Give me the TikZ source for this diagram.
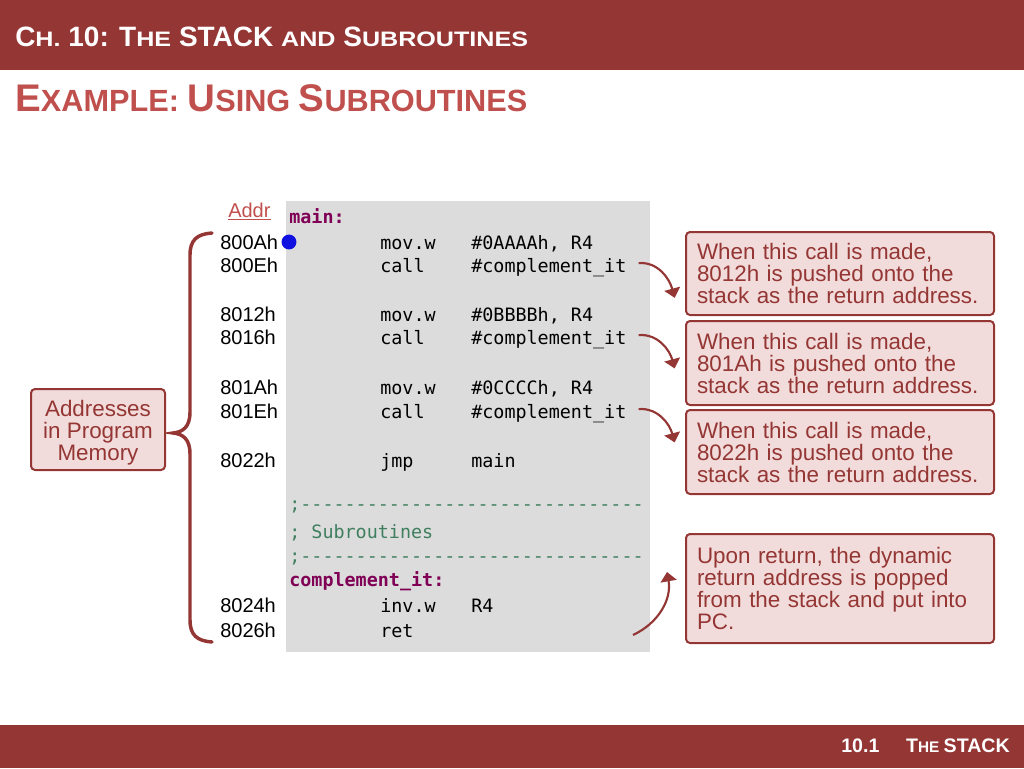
\documentclass[tikz,border=0pt]{standalone}
\usepackage{fontspec}
\setmainfont{Liberation Sans}
\setmonofont{DejaVu Sans Mono}
\newfontfamily\scst[FakeStretch=1.2]{Liberation Sans}
\usetikzlibrary{arrows.meta}
\definecolor{hdr}{HTML}{943634}
\definecolor{subc}{HTML}{C0504D}
\definecolor{boxfill}{HTML}{F2DCDB}
\definecolor{codebg}{HTML}{DCDCDC}
\definecolor{kw}{HTML}{7F0055}
\definecolor{cmt}{HTML}{3F7F5F}
\definecolor{dotblue}{HTML}{1010E0}
\newcommand\szA[1]{\fontsize{#1}{#1}\selectfont}
\newcommand\tsm[1]{{\scst\bfseries\szA{15.7}#1}}
\tikzset{
  code/.style={anchor=base west, inner sep=0pt, font=\ttfamily\fontsize{13.8}{14}\selectfont},
  kwd/.style={code, text=kw, font=\ttfamily\bfseries\fontsize{13.8}{14}\selectfont},
  cmtx/.style={code, text=cmt},
  addr/.style={anchor=base west, inner sep=0pt, font=\fontsize{15}{15}\selectfont},
  callout/.style={draw=hdr, line width=1.5pt, fill=boxfill, rounded corners=3pt, text=hdr,
    font=\fontsize{16.8}{16.5}\selectfont, align=left, text width=214.5pt, inner xsep=8.25pt,
    inner ysep=0pt},
  arr/.style={draw=hdr, line width=1.6pt, -{Triangle[width=12pt,length=7pt]}},
}
\begin{document}
\begin{tikzpicture}[x=0.75pt,y=-0.75pt]
\useasboundingbox (0,0) rectangle (1024,768);
% bars
\fill[hdr] (0,0) rectangle (1024,70);
\fill[hdr] (0,725) rectangle (1024,768);
\node[anchor=base west, inner sep=0pt, text=white, font=\bfseries\szA{21}] (title) at (15,46)
  {C\tsm{H.} 10: T\tsm{HE} STACK \tsm{AND} S\tsm{UBROUTINES}};
\node[anchor=base west, inner sep=0pt, text=subc, font=\bfseries] (subtitle) at (15,111)
  {\szA{28.9}E\szA{23}XAMPLE: \szA{28.9}U\szA{23}SING \szA{28.9}S\szA{23}UBROUTINES};
\node[anchor=base east, inner sep=0pt, text=white, font=\bfseries] (foot) at (1010,752)
  {\szA{14.7}10.1\hspace{20pt}T\szA{11.5}HE \szA{14.7}STACK};
% code background
\fill[codebg] (286,201) rectangle (650,652);
% Addr header
\node[addr, text=subc] (addrh) at (228,217) {\underline{Addr}};
% code lines
\node[kwd] (lmain) at (289,223) {main:};
\node[addr] (a1) at (220,249) {800Ah};
\node[code] (m1) at (380,249) {mov.w};
\node[code] (o1) at (471,249) {\#0AAAAh, R4};
\node[addr] (a2) at (220,272) {800Eh};
\node[code] (m2) at (380,272) {call};
\node[code] (o2) at (471,272) {\#complement\_it};
\node[addr] (a3) at (220,321) {8012h};
\node[code] (m3) at (380,321) {mov.w};
\node[code] (o3) at (471,321) {\#0BBBBh, R4};
\node[addr] (a4) at (220,344) {8016h};
\node[code] (m4) at (380,344) {call};
\node[code] (o4) at (471,344) {\#complement\_it};
\node[addr] (a5) at (220,394) {801Ah};
\node[code] (m5) at (380,394) {mov.w};
\node[code] (o5) at (471,394) {\#0CCCCh, R4};
\node[addr] (a6) at (220,418) {801Eh};
\node[code] (m6) at (380,418) {call};
\node[code] (o6) at (471,418) {\#complement\_it};
\node[addr] (a7) at (220,467) {8022h};
\node[code] (m7) at (380,467) {jmp};
\node[code] (o7) at (471,467) {main};
\node[cmtx] (d1) at (289,510) {;-------------------------------};
\node[cmtx] (csub) at (289,538) {; Subroutines};
\node[cmtx] (d2) at (289,562) {;-------------------------------};
\node[kwd] (lcomp) at (289,586) {complement\_it:};
\node[addr] (a8) at (220,612) {8024h};
\node[code] (m8) at (380,612) {inv.w};
\node[code] (o8) at (471,612) {R4};
\node[addr] (a9) at (220,637) {8026h};
\node[code] (m9) at (380,637) {ret};
% blue dot
\fill[dotblue] (289,242) circle[radius=5.6pt];
% brace
\draw[hdr, line width=2.6pt, line cap=round]
  (212,233) .. controls (197,234) and (190,240) .. (190,255) -- (190,412)
  .. controls (190,427) and (183,432) .. (173,433)
  .. controls (183,434) and (190,439) .. (190,454) -- (190,620)
  .. controls (190,635) and (197,641) .. (212,642);
% left box
\node[draw=hdr, line width=1.5pt, fill=boxfill, rounded corners=3pt,
  minimum width=100.5pt, minimum height=60.75pt, inner sep=0pt] (lbox) at (98,429.5) {};
\node[text=hdr, font=\fontsize{16.8}{16.5}\selectfont, align=center, inner sep=0pt,
  yshift=-2.5pt] (lboxtext) at (lbox.center) {Addresses\\in Program\\Memory};
% callouts
\node[callout, minimum height=62.25pt] (cb1) at (840,273.5)
  {When this call is made,\\8012h is pushed onto the\\stack as the return address.};
\node[callout, minimum height=63pt] (cb2) at (840,363)
  {When this call is made,\\801Ah is pushed onto the\\stack as the return address.};
\node[callout, minimum height=63pt] (cb3) at (840,452)
  {When this call is made,\\8022h is pushed onto the\\stack as the return address.};
\node[callout, minimum height=81.75pt] (cb4) at (840,588.5)
  {Upon return, the dynamic\\return address is popped\\from the stack and put into\\PC.};
% arrow ends
\coordinate (s1) at ([xshift=9pt,yshift=3pt]o2.east);
\coordinate (s2) at ([xshift=9pt,yshift=3pt]o4.east);
\coordinate (s3) at ([xshift=9pt,yshift=3pt]o6.east);
\coordinate (t1) at ([xshift=27pt,yshift=-26pt]s1);
\coordinate (t2) at ([xshift=27pt,yshift=-25pt]s2);
\coordinate (t3) at ([xshift=27pt,yshift=-25pt]s3);
\coordinate (rstart) at (633,635);
\coordinate (t4) at (667,572);
% arrows
\draw[arr] (s1) to[out=5,in=105] (t1);
\draw[arr] (s2) to[out=5,in=105] (t2);
\draw[arr] (s3) to[out=5,in=105] (t3);
\draw[arr] (rstart) to[out=25,in=-80] (t4);
\end{tikzpicture}
\end{document}
